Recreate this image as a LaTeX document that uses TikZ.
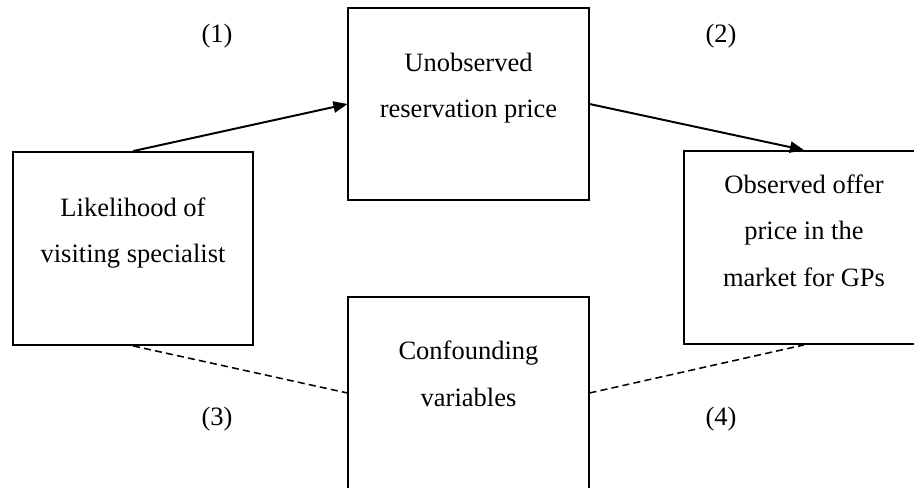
\documentclass[tikz,border=0pt]{standalone}
\usepackage{fontspec}
\setmainfont{Liberation Serif}
\usetikzlibrary{arrows.meta,positioning}

\begin{document}
\begin{tikzpicture}[x=0.025cm,y=-0.025cm,
  box/.style={draw,line width=1.4pt,minimum width=6cm,minimum height=4.82cm,inner sep=0pt},
  boxtext/.style={align=center,inner sep=0pt,anchor=north,font=\fontsize{18.85}{33.2}\selectfont},
  num/.style={inner sep=0pt,font=\fontsize{18.85}{22}\selectfont},
  arr/.style={line width=1.4pt,-{Triangle[length=10pt,width=8pt]}},
  link/.style={line width=1.1pt,dash pattern=on 5pt off 3pt}]
\useasboundingbox (0,0) rectangle (914,487);
\clip (0,0) rectangle (914,487);

\node[box] (lik) at (133,248.5) {};
\node[box] (unobs) at (468.5,104) {};
\node[box] (obs) at (804,247.5) {};
\node[box] (conf) at (468.5,393) {};

\node[boxtext] (liktxt) at ([yshift=-1.15cm]lik.north) {Likelihood of\\visiting specialist};
\node[boxtext] (unobstxt) at ([yshift=-1.15cm]unobs.north) {Unobserved\\reservation price};
\node[boxtext] (obstxt) at ([yshift=-0.6cm]obs.north) {Observed offer\\price in the\\market for GPs};
\node[boxtext] (conftxt) at ([yshift=-1.12cm]conf.north) {Confounding\\variables};

\node[num] (n1) at (217,36) {(1)};
\node[num] (n2) at (721,36) {(2)};
\node[num] (n3) at (217,419) {(3)};
\node[num] (n4) at (721,419) {(4)};

\draw[arr] (lik.north) -- (unobs.west);
\draw[arr] (unobs.east) -- (obs.north);
\draw[link] (lik.south) -- (conf.west);
\draw[link] (conf.east) -- (obs.south);

\end{tikzpicture}
\end{document}
